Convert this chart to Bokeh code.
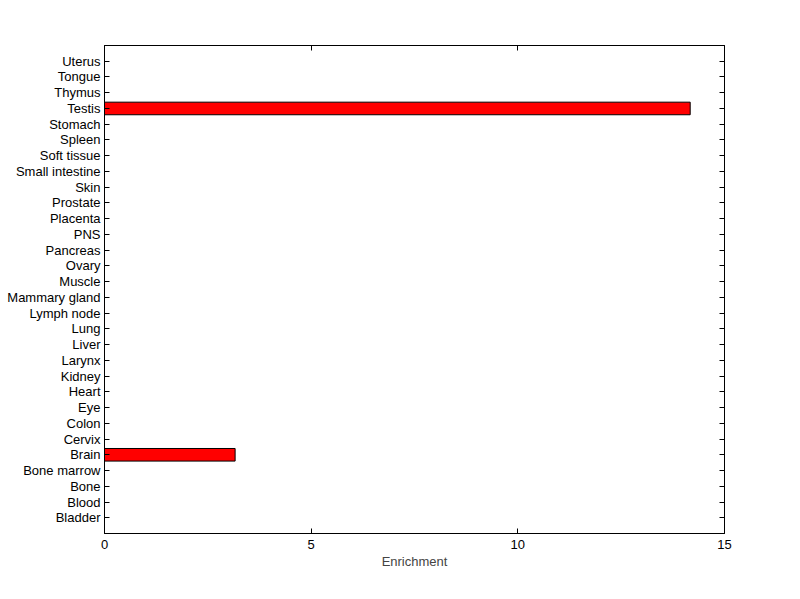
from bokeh.plotting import figure
from bokeh.models import FixedTicker, LinearAxis, Range1d
from bokeh.embed import file_html
from bokeh.resources import INLINE

tissues = ["Bladder", "Blood", "Bone", "Bone marrow", "Brain", "Cervix", "Colon", "Eye",
           "Heart", "Kidney", "Larynx", "Liver", "Lung", "Lymph node", "Mammary gland",
           "Muscle", "Ovary", "Pancreas", "PNS", "Placenta", "Prostate", "Skin",
           "Small intestine", "Soft tissue", "Spleen", "Stomach", "Testis", "Thymus",
           "Tongue", "Uterus"]
enrichment = [0, 0, 0, 0, 3.16, 0, 0, 0, 0, 0, 0, 0, 0, 0, 0, 0, 0, 0, 0, 0, 0, 0,
              0, 0, 0, 0, 14.17, 0, 0, 0]
x_ticks = [0, 5, 10, 15]

ypos = list(range(1, len(tissues) + 1))
FONT = "Liberation Sans"
FS = "13px"

p = figure(width=784, height=583, output_backend="svg", toolbar_location=None,
           x_range=Range1d(0, 15), y_range=Range1d(0, len(tissues) + 1),
           min_border_left=104, min_border_right=60, min_border_top=45, min_border_bottom=50)
p.xgrid.visible = False
p.ygrid.visible = False
p.outline_line_color = "black"
p.outline_line_width = 1
p.background_fill_color = "white"
p.border_fill_color = "white"

nz = [(y, v) for y, v in zip(ypos, enrichment) if v > 0]
p.hbar(y=[a for a, b in nz], left=0, right=[b for a, b in nz], height=0.8,
       fill_color="#ff0000", line_color="black", line_width=1)

def style(ax, labels=True):
    ax.major_tick_in = 5
    ax.major_tick_out = 0
    ax.minor_tick_in = 0
    ax.minor_tick_out = 0
    ax.axis_line_color = "black"
    ax.major_tick_line_color = "black"
    ax.major_label_text_font = FONT
    ax.major_label_text_font_size = FS if labels else "0px"
    ax.major_label_text_color = "black"
    if not labels:
        ax.major_label_text_alpha = 0

# bottom axis
xa = p.xaxis[0]
xa.ticker = FixedTicker(ticks=x_ticks)
style(xa)
xa.major_label_standoff = 6
xa.axis_label = "Enrichment"
xa.axis_label_text_font = FONT
xa.axis_label_text_font_size = FS
xa.axis_label_text_font_style = "normal"
xa.axis_label_standoff = 2

# left axis
ya = p.yaxis[0]
ya.ticker = FixedTicker(ticks=ypos)
ya.major_label_overrides = {y: t for y, t in zip(ypos, tissues)}
style(ya)
ya.major_label_standoff = 4

# top and right axes
top = LinearAxis(ticker=FixedTicker(ticks=x_ticks))
style(top, labels=False)
p.add_layout(top, "above")
right = LinearAxis(ticker=FixedTicker(ticks=ypos))
style(right, labels=False)
p.add_layout(right, "right")

open("out.html", "w").write(file_html(p, INLINE))
